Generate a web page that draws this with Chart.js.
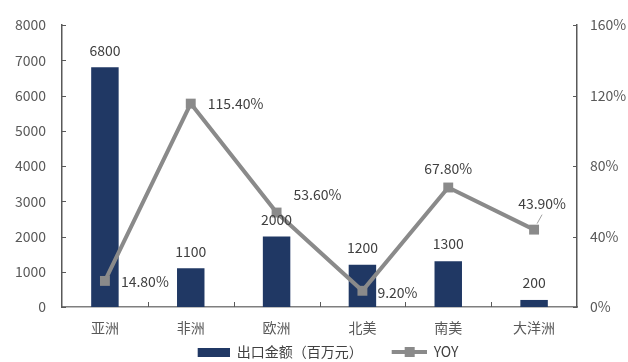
<!DOCTYPE html>
<html>
<head>
<meta charset="utf-8">
<script src="https://cdn.jsdelivr.net/npm/chart.js@4"></script>
<style>
  html, body { margin: 0; padding: 0; background: #fff; }
  #wrap { width: 628px; height: 362px; }
</style>
</head>
<body>
<div id="wrap"><canvas id="exportChart" width="628" height="362"></canvas></div>
<script>
// Regions and values
const regions = ['亚洲', '非洲', '欧洲', '北美', '南美', '大洋洲'];
const exportAmount = [6800, 1100, 2000, 1200, 1300, 200];   // 百万元
const yoyRate = [14.8, 115.4, 53.6, 9.2, 67.8, 43.9];       // %
const amountTicks = [0, 1000, 2000, 3000, 4000, 5000, 6000, 7000, 8000];
const yoyTicks = [0, 40, 80, 120, 160];

const NAVY = '#203864';
const GREY = '#8a8a8a';
const TEXT = '#595959';
const FONT = "'Noto Sans CJK SC', 'Noto Sans', sans-serif";

// where each YOY label sits relative to its marker: [dx, dy, align]
const yoyLabelPos = [
    [16, 1, 'left'],
    [17, 0, 'left'],
    [17, -18, 'left'],
    [15, 2, 'left'],
    [0, -19, 'center'],
    [8, -26, 'center']
];

// legend swatches drawn on small canvases (right-aligned, leading blank = item gap)
const SW = 60;
function barSwatch() {
    const c = document.createElement('canvas');
    c.width = SW; c.height = 9;
    const g = c.getContext('2d');
    g.fillStyle = NAVY;
    g.fillRect(SW - 32, 0, 32, 9);
    return c;
}
function lineSwatch() {
    const c = document.createElement('canvas');
    c.width = SW; c.height = 10;
    const g = c.getContext('2d');
    g.strokeStyle = GREY;
    g.lineWidth = 4;
    g.beginPath(); g.moveTo(SW - 35, 5); g.lineTo(SW, 5); g.stroke();
    g.fillStyle = GREY;
    g.fillRect(SW - 22, 0, 10, 10);
    return c;
}

// inward tick marks on all three axes
const innerTicks = {
    id: 'innerTicks',
    afterDraw(chart) {
        const { ctx, chartArea, scales } = chart;
        ctx.save();
        ctx.strokeStyle = '#595959';
        ctx.lineWidth = 1;
        ctx.beginPath();
        amountTicks.forEach(v => {
            const y = Math.round(scales.y.getPixelForValue(v)) + 0.5;
            ctx.moveTo(chartArea.left, y); ctx.lineTo(chartArea.left + 4, y);
        });
        yoyTicks.forEach(v => {
            const y = Math.round(scales.y1.getPixelForValue(v)) + 0.5;
            ctx.moveTo(chartArea.right, y); ctx.lineTo(chartArea.right - 4, y);
        });
        for (let i = 0; i < regions.length - 1; i++) {
            const x = Math.round((scales.x.getPixelForTick(i) + scales.x.getPixelForTick(i + 1)) / 2) + 0.5;
            ctx.moveTo(x, chartArea.bottom); ctx.lineTo(x, chartArea.bottom - 5);
        }
        ctx.stroke();
        ctx.restore();
    }
};

// value labels for bars and YOY points
const valueLabels = {
    id: 'valueLabels',
    afterDatasetsDraw(chart) {
        const { ctx } = chart;
        ctx.save();
        ctx.font = '14px ' + FONT;
        ctx.fillStyle = '#404040';
        ctx.textBaseline = 'middle';

        chart.getDatasetMeta(1).data.forEach((bar, i) => {
            ctx.textAlign = 'center';
            ctx.fillText(String(exportAmount[i]), bar.x, bar.y - 17);
        });

        chart.getDatasetMeta(0).data.forEach((pt, i) => {
            const [dx, dy, align] = yoyLabelPos[i];
            ctx.textAlign = align;
            ctx.fillText(yoyRate[i].toFixed(2) + '%', pt.x + dx, pt.y + dy);
        });

        // leader line for the last label
        const last = chart.getDatasetMeta(0).data[regions.length - 1];
        ctx.strokeStyle = '#a0a0a0';
        ctx.lineWidth = 1;
        ctx.beginPath();
        ctx.moveTo(last.x + 8, last.y - 15);
        ctx.lineTo(last.x + 3, last.y - 6);
        ctx.stroke();
        ctx.restore();
    }
};

new Chart(document.getElementById('exportChart'), {
    data: {
        labels: regions,
        datasets: [
            {
                type: 'line',
                label: 'YOY',
                data: yoyRate,
                yAxisID: 'y1',
                borderColor: GREY,
                backgroundColor: GREY,
                borderWidth: 4,
                pointStyle: 'rect',
                pointRadius: 7,
                pointBackgroundColor: GREY,
                pointBorderWidth: 0,
                tension: 0,
                order: 0
            },
            {
                type: 'bar',
                label: '出口金额（百万元）',
                data: exportAmount,
                yAxisID: 'y',
                backgroundColor: NAVY,
                categoryPercentage: 1,
                barPercentage: 0.32,
                order: 1
            }
        ]
    },
    options: {
        responsive: false,
        animation: false,
        layout: { padding: { top: 25, left: 0, right: 0, bottom: -7 } },
        plugins: {
            tooltip: { enabled: false },
            legend: {
                position: 'bottom',
                labels: {
                    usePointStyle: true,
                    pointStyleWidth: SW,
                    padding: 4,
                    boxHeight: 14,
                    color: '#404040',
                    font: { family: FONT, size: 14 },
                    generateLabels: () => [
                        { text: '出口金额（百万元）', pointStyle: barSwatch(), fontColor: '#404040', lineWidth: 0, hidden: false },
                        { text: 'YOY', pointStyle: lineSwatch(), fontColor: '#404040', lineWidth: 0, hidden: false }
                    ]
                }
            }
        },
        scales: {
            x: {
                offset: true,
                grid: { display: false, drawTicks: false },
                border: { display: true, color: '#7f7f7f', width: 1.5 },
                ticks: { color: TEXT, padding: 12, font: { family: FONT, size: 14 } },
                afterFit: s => { s.height = 34; }
            },
            y: {
                position: 'left',
                min: 0, max: 8000,
                grid: { display: false, drawTicks: false },
                border: { display: true, color: '#595959', width: 1.5 },
                ticks: { stepSize: 1000, color: TEXT, padding: 16, font: { family: FONT, size: 14 }, callback: v => String(v) },
                afterFit: s => { s.width = 62; }
            },
            y1: {
                position: 'right',
                min: 0, max: 160,
                grid: { display: false, drawTicks: false },
                border: { display: true, color: '#595959', width: 1.5 },
                ticks: { stepSize: 40, color: TEXT, padding: 13, font: { family: FONT, size: 14 }, callback: v => v + '%' },
                afterFit: s => { s.width = 51; }
            }
        }
    },
    plugins: [innerTicks, valueLabels]
});
</script>
</body>
</html>
